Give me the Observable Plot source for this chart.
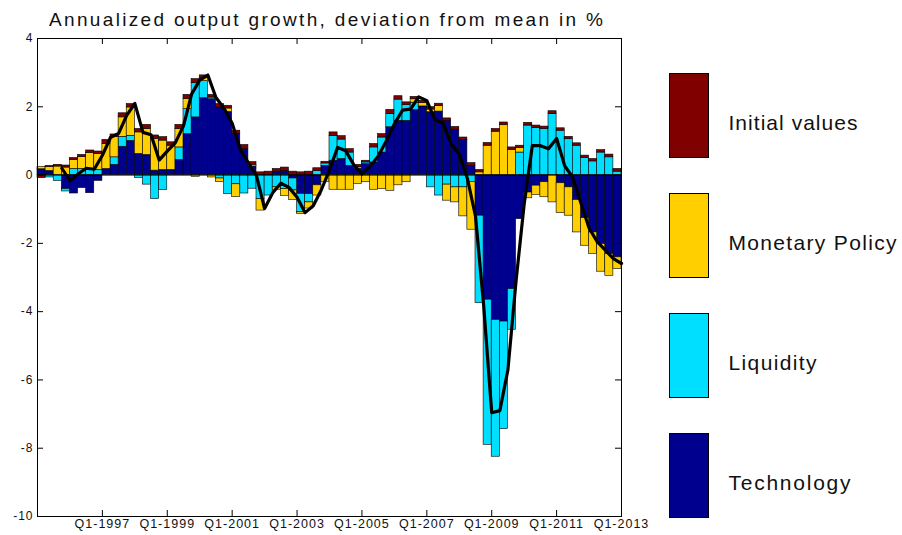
<!DOCTYPE html>
<html><head><meta charset="utf-8">
<script src="https://cdn.jsdelivr.net/npm/d3@7"></script>
<script src="https://cdn.jsdelivr.net/npm/@observablehq/plot@0.6"></script>
<style>
body{margin:0;background:#fff;}
#wrap{position:relative;width:902px;height:535px;overflow:hidden;background:#fff}
#wrap svg{position:absolute;left:0;top:0}
</style></head><body><div id="wrap"></div>
<script>
// ---- data (quarterly, Q1-1995 .. Q4-2012) ----
const startYear = 1995;
const titleText = "Annualized output growth, deviation from mean in %";
const seriesNames = ["Technology", "Liquidity", "Monetary Policy", "Initial values"];
const seriesColors = ["#00008F", "#00DFFF", "#FFCF00", "#800000"];

const technology = [0.17,0.12,0,-0.41,-0.54,-0.38,-0.53,-0.17,0.18,0.3,0.83,1.0,0.62,0.59,0.13,0.15,0.15,0.44,
  1.2,1.69,2.25,2.22,1.98,1.85,1.2,0.76,0.25,0,0,0.1,0.12,-0.1,-0.55,-0.56,-0.3,0.27,
  0.42,0.47,0.27,0.18,0.32,0.37,0.66,1.4,1.59,1.59,1.9,2.01,1.84,1.86,1.59,1.33,1.03,0.27,
  -1.19,-3.65,-4.24,-4.29,-3.34,-1.29,-0.51,-0.31,-0.21,0,-0.24,-0.36,-0.73,-1.26,-1.68,-2.02,-2.31,-2.41];
const liquidity = [0,-0.07,-0.17,-0.07,0.18,0.18,0.15,0.15,0,0.22,0.29,0.15,-0.09,-0.28,-0.7,-0.44,0,0.37,
  0.73,1.0,0.5,0.05,-0.1,-0.56,-0.27,-0.54,-0.4,-0.7,-0.6,-0.36,-0.41,-0.35,-0.54,-0.24,0.12,0.07,
  0.73,0.57,0.39,0.05,0.05,0.44,0.44,0.39,0.62,0.46,0.22,0,-0.36,-0.6,-0.28,-0.36,-0.36,-0.2,
  -2.56,-4.25,-4.01,-3.15,-1.19,0.66,1.45,1.38,1.35,1.79,1.3,1.05,0.86,0.5,0.4,0.66,0.52,0.1];
const monetaryPolicy = [0.07,0.12,0.25,0.22,0.26,0.35,0.5,0.47,0.73,0.6,0.57,0.83,0.63,0.76,0.93,0.86,0.71,0.54,
  0.3,-0.05,0.1,-0.07,-0.1,0.1,-0.37,0,0.05,-0.34,0,-0.07,-0.2,-0.28,-0.05,-0.18,-0.3,-0.2,
  -0.43,-0.43,-0.43,-0.26,-0.21,-0.43,-0.41,-0.46,-0.3,-0.21,0.1,0.1,0.08,0.16,-0.47,-0.44,-0.85,-1.4,
  0.08,0.86,1.27,1.46,0.74,0.13,-0.17,-0.27,-0.44,-0.8,-0.87,-0.83,-0.95,-0.81,-0.63,-0.81,-0.64,-0.34];
const initialValues = [-0.09,0.03,0.05,0.06,0.06,0.06,0.07,0.07,0.12,0.07,0.12,0.1,0.1,0.12,0.1,0.1,0.1,0.12,
  0.12,0.12,0.07,0.08,0.1,0.08,0.1,0.12,0.08,0.08,0.1,0.08,0.1,0.1,0.08,0.1,0.08,0.05,
  0.1,0.1,0.1,0.07,0.05,0.1,0.1,0.12,0.1,0.08,0.07,0.07,0.07,0.07,0.07,0.08,0.07,0.08,
  0.07,0.08,0.08,0.08,0.07,0.07,0.08,0.07,0.07,0.08,0.07,0.07,0.07,0.07,0.07,0.07,0.08,0.08];
const outputGrowth = [null,null,0.2,-0.17,0.03,0.2,0.17,0.58,1.1,1.22,1.75,2.1,1.25,1.18,0.44,0.7,0.95,1.44,
  2.37,2.78,2.93,2.27,1.95,1.52,0.75,0.36,-0.02,-0.98,-0.52,-0.24,-0.36,-0.65,-1.1,-0.9,-0.43,0.15,
  0.81,0.71,0.3,0.03,0.25,0.55,1.0,1.5,1.9,1.93,2.29,2.18,1.62,1.52,0.91,0.61,-0.1,-1.2,
  -3.8,-6.96,-6.9,-5.7,-3.1,-0.85,0.86,0.86,0.77,1.07,0.27,-0.07,-0.82,-1.55,-1.95,-2.2,-2.45,-2.59];

const xTickYears = [1997, 1999, 2001, 2003, 2005, 2007, 2009, 2011, 2013];
const yTicks = [4, 2, 0, -2, -4, -6, -8, -10];

// ---- tables built from the arrays ----
const components = [technology, liquidity, monetaryPolicy, initialValues];
const rows = [];
components.forEach((arr, s) => arr.forEach((v, i) => {
  if (v !== 0) rows.push({series: seriesNames[s], x1: startYear + i / 4, x2: startYear + (i + 1) / 4, value: v});
}));
const lineRows = outputGrowth.map((v, i) => ({x: startYear + (i + 1) / 4, value: v}));

const W = 902, H = 535, mL = 37, mR = 281, mT = 38, mB = 19;
const innerH = H - mT - mB, innerW = W - mL - mR, tick = 6;
const font = "'Liberation Sans', Arial, Helvetica, sans-serif";

const chart = Plot.plot({
  width: W, height: H,
  marginLeft: mL, marginRight: mR, marginTop: mT, marginBottom: mB,
  style: `font-family: ${font}; font-size: 12.5px; letter-spacing: 1px; color: #111; background: transparent; overflow: visible;`,
  x: {domain: [startYear, 2013], axis: null},
  y: {domain: [-10, 4], axis: null},
  color: {domain: seriesNames, range: seriesColors},
  marks: [
    Plot.rectY(rows, Plot.stackY({x1: "x1", x2: "x2", y: "value", fill: "series", stroke: "#000", strokeWidth: 0.6})),
    Plot.ruleY([0], {stroke: "#000", strokeWidth: 1}),
    Plot.line(lineRows, {x: "x", y: "value", stroke: "#000", strokeWidth: 3.2, strokeLinejoin: "round", curve: "linear"}),
    Plot.frame({stroke: "#000", strokeWidth: 1}),
    // inward ticks on all four sides
    Plot.ruleX(xTickYears, {x: d => d, insetTop: innerH - tick, stroke: "#000"}),
    Plot.ruleX(xTickYears, {x: d => d, insetBottom: innerH - tick, stroke: "#000"}),
    Plot.ruleY(yTicks, {y: d => d, insetRight: innerW - tick, stroke: "#000"}),
    Plot.ruleY(yTicks, {y: d => d, insetLeft: innerW - tick, stroke: "#000"}),
    Plot.axisX({ticks: xTickYears, tickSize: 0, tickPadding: 3, tickFormat: d => "Q1-" + d, fontSize: 12.5, label: null}),
    Plot.axisY({ticks: yTicks, tickSize: 0, tickPadding: 4, tickFormat: d => String(d), fontSize: 12, label: null})
  ]
});
document.getElementById("wrap").appendChild(chart);

// ---- title and legend overlay ----
const ov = d3.select("#wrap").append("svg").attr("width", W).attr("height", H)
  .style("font-family", font);
ov.append("text").attr("x", 49).attr("y", 26).attr("font-size", 19).attr("fill", "#111")
  .attr("textLength", 554).attr("lengthAdjust", "spacing").text(titleText);

const legendItems = seriesNames.map((n, i) => ({name: n, color: seriesColors[i]})).reverse();
const labelWidths = {"Initial values": 129, "Monetary Policy": 168, "Liquidity": 88, "Technology": 122};
const g = ov.selectAll("g.leg").data(legendItems).join("g")
  .attr("transform", (d, i) => `translate(669.5,${73.5 + i * 120})`);
g.append("rect").attr("width", 39).attr("height", 84)
  .attr("fill", d => d.color).attr("stroke", "#000").attr("stroke-width", 1);
g.append("text").attr("x", 59).attr("y", 56).attr("font-size", 21).attr("fill", "#111")
  .attr("textLength", d => labelWidths[d.name]).attr("lengthAdjust", "spacing")
  .text(d => d.name);
</script></body></html>
